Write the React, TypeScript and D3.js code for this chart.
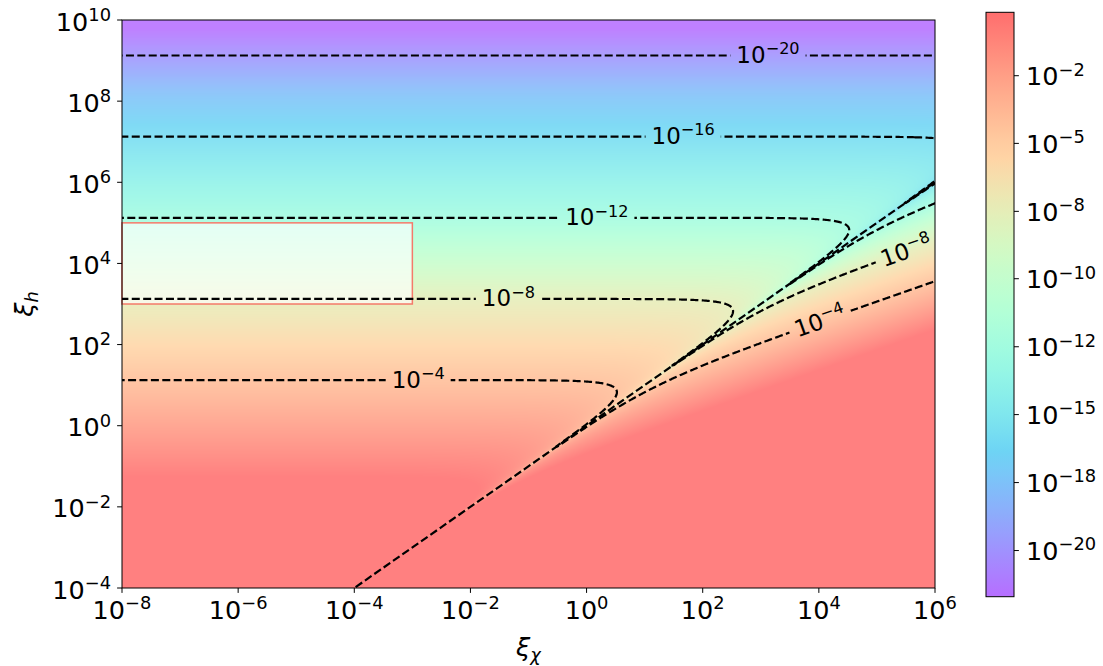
import React, { useMemo } from "react";
import * as d3 from "d3";

// ---------- data ----------
const X_DOMAIN: [number, number] = [1e-8, 1e6];
const Y_DOMAIN: [number, number] = [1e-4, 1e10];
const X_TICK_EXPONENTS = [-8, -6, -4, -2, 0, 2, 4, 6];
const Y_TICK_EXPONENTS = [-4, -2, 0, 2, 4, 6, 8, 10];
const CONTOUR_EXPONENTS = [-20, -16, -12, -8, -4];
const CB_TICK_EXPONENTS = [-2, -5, -8, -10, -12, -15, -18, -20];
const CB_TICK_FRACTIONS = [0.8915, 0.7757, 0.6594, 0.5441, 0.4277, 0.3116, 0.1953, 0.079];
const FIELD_LOG_AMPLITUDE = -1.75;
const BOX_X = [1e-8, 1e-3];
const BOX_Y = [1e3, 1e5];
const DIAGONAL_X = [1e-8, 1e6];
const LABEL_EXPONENTS = [-20, -16, -12, -8, -4, -8, -4];
const LABEL_XI_CHI = [1.33e3, 4.6e1, 1.5e0, 4.5e-2, 1.26e-3, 3.2e5, 1.05e4];
const LABEL_BRANCH = ["upper", "upper", "upper", "upper", "upper", "lower", "lower"];

// ---------- layout ----------
const W = 1103;
const H = 666;
const P = { left: 122, right: 935, top: 20, bottom: 588 };
const CB = { x: 986, w: 28, top: 12.3, bottom: 596.7 };
const HEAT_ALPHA = 0.5;
const CB_ALPHA = 0.57;
const TICK_FS = 25.5;
const LABEL_FS = 23;
const FONT = "DejaVu Sans, Verdana, sans-serif";

function logField(u: number, v: number) {
  const d = Math.abs(1 - Math.pow(10, u - v));
  if (d === 0) return -Infinity;
  return FIELD_LOG_AMPLITUDE - 2 * v + 2 * Math.log10(d);
}

const cbNorm = d3.scaleLinear().domain(CB_TICK_EXPONENTS).range(CB_TICK_FRACTIONS);

function clamp01(x: number) {
  return Math.max(0, Math.min(1, x));
}
function rainbow(t: number) {
  return [
    clamp01(Math.abs(2 * t - 0.5)),
    clamp01(Math.sin(Math.PI * t)),
    clamp01(Math.cos((Math.PI * t) / 2)),
  ];
}
function blend(rgb: number[], a: number) {
  return rgb.map((c) => Math.round(255 * (1 - a + a * c)));
}
function tOf(lf: number) {
  if (!Number.isFinite(lf)) return lf > 0 ? 1 : 0;
  return clamp01(cbNorm(lf));
}

function Pow10(props: { exp: number; x: number; y: number; size: number; anchor: string }) {
  const { exp, x, y, size, anchor } = props;
  const sup = exp < 0 ? "\u2212" + Math.abs(exp) : String(exp);
  return (
    <text x={x} y={y} fontSize={size} textAnchor={anchor as any} fill="#000">
      10
      <tspan fontSize={size * 0.7} dy={-size * 0.38}>
        {sup}
      </tspan>
    </text>
  );
}

export default function App() {
  const pw = P.right - P.left;
  const ph = P.bottom - P.top;
  const xScale = d3.scaleLog().domain(X_DOMAIN).range([P.left, P.right]);
  const yScale = d3.scaleLog().domain(Y_DOMAIN).range([P.bottom, P.top]);
  const cbY = d3.scaleLinear().domain([0, 1]).range([CB.bottom, CB.top]);

  const heatURL = useMemo(() => {
    const cw = Math.round(pw);
    const ch = Math.round(ph);
    const canvas = document.createElement("canvas");
    canvas.width = cw;
    canvas.height = ch;
    const ctx = canvas.getContext("2d");
    if (!ctx) return "";
    const img = ctx.createImageData(cw, ch);
    for (let j = 0; j < ch; j++) {
      const v = Math.log10(yScale.invert(P.top + j + 0.5));
      for (let i = 0; i < cw; i++) {
        const u = Math.log10(xScale.invert(P.left + i + 0.5));
        const [r, g, b] = blend(rainbow(tOf(logField(u, v))), HEAT_ALPHA);
        const k = (j * cw + i) * 4;
        img.data[k] = r;
        img.data[k + 1] = g;
        img.data[k + 2] = b;
        img.data[k + 3] = 255;
      }
    }
    ctx.putImageData(img, 0, 0);
    return canvas.toDataURL();
  }, []);

  const contourPaths = useMemo(() => {
    const d = 0.02;
    const pad = 2;
    const u0 = Math.log10(X_DOMAIN[0]);
    const v0 = Math.log10(Y_DOMAIN[0]);
    const nx = Math.round((Math.log10(X_DOMAIN[1]) - u0) / d) + 1 + 2 * pad;
    const ny = Math.round((Math.log10(Y_DOMAIN[1]) - v0) / d) + 1 + 2 * pad;
    const values = new Float64Array(nx * ny);
    for (let j = 0; j < ny; j++) {
      const v = v0 + (j - pad) * d + d / 2;
      for (let i = 0; i < nx; i++) {
        const u = u0 + (i - pad) * d;
        const lf = logField(u, v);
        values[j * nx + i] = Math.max(-80, Math.min(40, lf));
      }
    }
    const gen = d3.contours().size([nx, ny]).thresholds(CONTOUR_EXPONENTS);
    const polys = gen(values as any);
    const proj = d3.geoTransform({
      point(this: any, cx: number, cy: number) {
        const u = u0 + (cx - 0.5 - pad) * d;
        const v = v0 + (cy - 0.5 - pad) * d + d / 2;
        this.stream.point(xScale(Math.pow(10, u)), yScale(Math.pow(10, v)));
      },
    });
    const path = d3.geoPath(proj);
    return polys.map((p) => ({ level: p.value, d: path(p as any) || "" }));
  }, []);

  const labels = useMemo(() => {
    return LABEL_EXPONENTS.map((lev, k) => {
      const u = Math.log10(LABEL_XI_CHI[k]);
      let lo: number, hi: number;
      if (LABEL_BRANCH[k] === "upper") {
        lo = u + 0.31;
        hi = 12;
      } else {
        lo = u - 10;
        hi = u - 1e-7;
      }
      for (let it = 0; it < 80; it++) {
        const mid = (lo + hi) / 2;
        if (logField(u, mid) > lev) lo = mid;
        else hi = mid;
      }
      const v = (lo + hi) / 2;
      const cx = xScale(Math.pow(10, u));
      const cy = yScale(Math.pow(10, v));
      const G = (px: number, py: number) =>
        logField(Math.log10(xScale.invert(px)), Math.log10(yScale.invert(py)));
      const gx = (G(cx + 1, cy) - G(cx - 1, cy)) / 2;
      const gy = (G(cx, cy + 1) - G(cx, cy - 1)) / 2;
      let ang = (Math.atan2(gx, -gy) * 180) / Math.PI;
      if (ang > 90) ang -= 180;
      if (ang < -90) ang += 180;
      const nd = String(Math.abs(lev)).length;
      const lw = 2 * 0.636 * LABEL_FS + 0.7 * LABEL_FS * (0.838 + 0.636 * nd);
      return { lev, cx, cy, ang, lw };
    });
  }, []);

  const cbStops = d3.range(0, 65).map((k) => {
    const t = k / 64;
    const [r, g, b] = blend(rainbow(t), CB_ALPHA);
    return <stop key={k} offset={t} stopColor={`rgb(${r},${g},${b})`} />;
  });

  const diag = d3.line()(DIAGONAL_X.map((x) => [xScale(x), yScale(x)] as [number, number])) || "";

  return (
    <svg
      width={W}
      height={H}
      style={{ position: "absolute", left: 0, top: 0, background: "#fff" }}
      fontFamily={FONT}
    >
      <defs>
        <clipPath id="plotclip">
          <rect x={P.left} y={P.top} width={pw} height={ph} />
        </clipPath>
        <linearGradient id="cbgrad" x1="0" y1="1" x2="0" y2="0">
          {cbStops}
        </linearGradient>
        {CONTOUR_EXPONENTS.map((lev) => (
          <mask id={`m${Math.abs(lev)}`} key={lev} maskUnits="userSpaceOnUse" x={0} y={0} width={W} height={H}>
            <rect x={0} y={0} width={W} height={H} fill="#fff" />
            {labels
              .filter((l) => l.lev === lev)
              .map((l, i) => (
                <rect
                  key={i}
                  x={l.cx - l.lw / 2 - 6}
                  y={l.cy - 11}
                  width={l.lw + 12}
                  height={22}
                  fill="#000"
                  transform={`rotate(${l.ang} ${l.cx} ${l.cy})`}
                />
              ))}
          </mask>
        ))}
      </defs>

      {heatURL && (
        <image href={heatURL} x={P.left} y={P.top} width={pw} height={ph} preserveAspectRatio="none" />
      )}

      <rect
        x={xScale(BOX_X[0])}
        y={yScale(BOX_Y[1])}
        width={xScale(BOX_X[1]) - xScale(BOX_X[0])}
        height={yScale(BOX_Y[0]) - yScale(BOX_Y[1])}
        fill="#fff"
        fillOpacity={0.64}
        stroke="#f47a6a"
        strokeWidth={1.5}
      />

      <g clipPath="url(#plotclip)" fill="none" stroke="#000" strokeWidth={2.2} strokeDasharray="8 3.4">
        {contourPaths.map((c, i) => (
          <path key={i} d={c.d} mask={`url(#m${Math.abs(c.level)})`} />
        ))}
        <path d={diag} />
      </g>

      {labels.map((l, i) => (
        <g key={i} transform={`rotate(${l.ang} ${l.cx} ${l.cy})`}>
          <Pow10 exp={l.lev} x={l.cx - l.lw / 2} y={l.cy + 7.5} size={LABEL_FS} anchor="start" />
        </g>
      ))}

      <rect x={P.left} y={P.top} width={pw} height={ph} fill="none" stroke="#000" strokeWidth={1} />

      {X_TICK_EXPONENTS.map((e) => {
        const x = xScale(Math.pow(10, e));
        return (
          <g key={e}>
            <line x1={x} x2={x} y1={P.bottom} y2={P.bottom + 4.9} stroke="#000" strokeWidth={1} />
            <Pow10 exp={e} x={x} y={619} size={TICK_FS} anchor="middle" />
          </g>
        );
      })}
      {Y_TICK_EXPONENTS.map((e) => {
        const y = yScale(Math.pow(10, e));
        return (
          <g key={e}>
            <line x1={P.left - 4.9} x2={P.left} y1={y} y2={y} stroke="#000" strokeWidth={1} />
            <Pow10 exp={e} x={111} y={y + 10.5} size={TICK_FS} anchor="end" />
          </g>
        );
      })}

      <text x={(P.left + P.right) / 2} y={656} fontSize={TICK_FS} textAnchor="middle" fill="#000">
        <tspan fontStyle="italic">ξ</tspan>
        <tspan fontStyle="italic" fontSize={TICK_FS * 0.7} dy={5}>
          χ
        </tspan>
      </text>
      <text
        transform={`translate(33 ${(P.top + P.bottom) / 2}) rotate(-90)`}
        fontSize={TICK_FS}
        textAnchor="middle"
        fill="#000"
      >
        <tspan fontStyle="italic">ξ</tspan>
        <tspan fontStyle="italic" fontSize={TICK_FS * 0.7} dy={5}>
          h
        </tspan>
      </text>

      <rect x={CB.x} y={CB.top} width={CB.w} height={CB.bottom - CB.top} fill="url(#cbgrad)" stroke="#000" strokeWidth={1} />
      {CB_TICK_EXPONENTS.map((e, i) => {
        const y = cbY(CB_TICK_FRACTIONS[i]);
        return (
          <g key={e}>
            <line x1={CB.x + CB.w} x2={CB.x + CB.w + 4.9} y1={y} y2={y} stroke="#000" strokeWidth={1} />
            <Pow10 exp={e} x={1026} y={y + 9.5} size={TICK_FS} anchor="start" />
          </g>
        );
      })}
    </svg>
  );
}
